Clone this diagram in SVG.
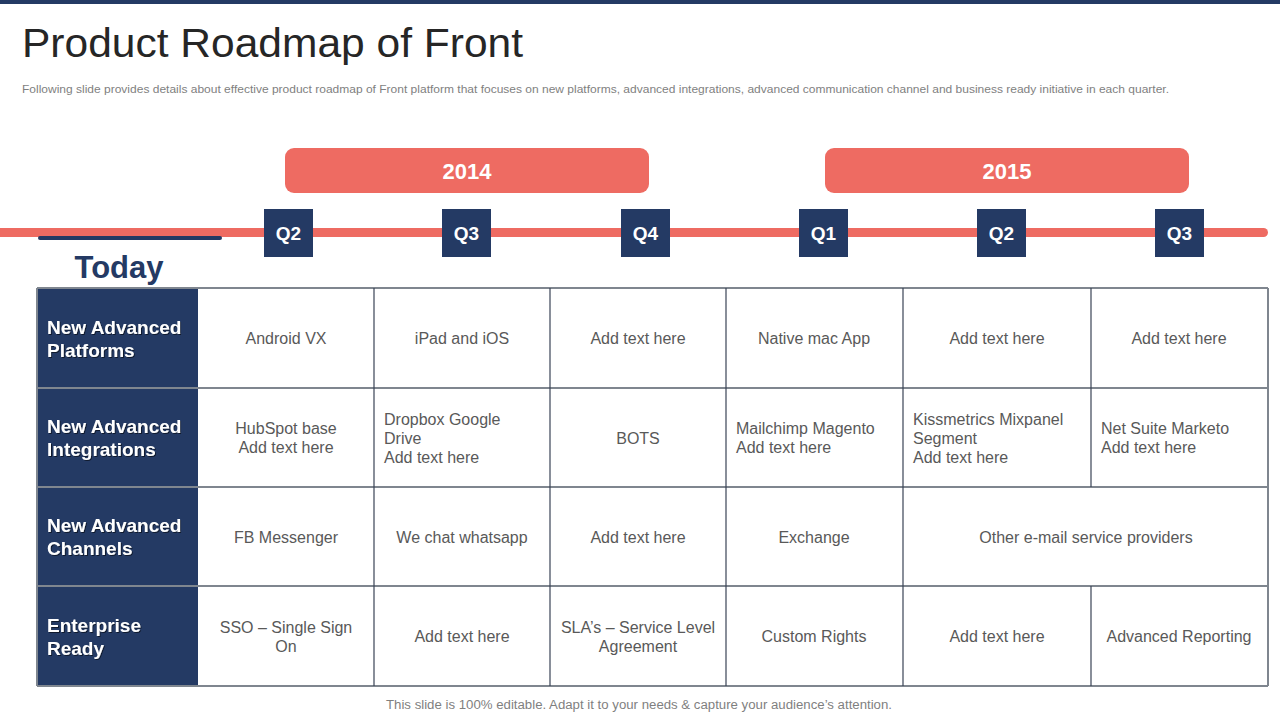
<svg xmlns="http://www.w3.org/2000/svg" width="1280" height="720" viewBox="0 0 1280 720">
<defs>
<style>
.navy{fill:#243a64}
.red{fill:#ee6b62}
.hdr{font-family:"Liberation Sans",Arial,sans-serif;font-weight:bold;font-size:19px;fill:#ffffff}
.q{font-family:"Liberation Sans",Arial,sans-serif;font-weight:bold;font-size:19px;fill:#ffffff;text-anchor:middle}
.yr{font-family:"Liberation Sans",Arial,sans-serif;font-weight:bold;font-size:22px;fill:#ffffff;text-anchor:middle}
.cell{font-family:"Liberation Sans",Arial,sans-serif;font-size:16px;fill:#595959}
.c{text-anchor:middle}
.hl{stroke:#7f868f;stroke-width:2}
.vl{stroke:#3a4456;stroke-width:1.2}
</style>
<filter id="sh" x="-10%" y="-10%" width="130%" height="140%">
<feDropShadow dx="1" dy="1" stdDeviation="0.6" flood-color="#000000" flood-opacity="0.55"/>
</filter>
</defs>
<rect x="0" y="0" width="1280" height="720" fill="#ffffff"/>
<rect x="0" y="0" width="1280" height="4" class="navy"/>
<text x="22" y="57" font-family="Liberation Sans,Arial,sans-serif" font-size="41" fill="#262626" textLength="501" lengthAdjust="spacingAndGlyphs">Product Roadmap of Front</text>
<text x="22" y="93" font-family="Liberation Sans,Arial,sans-serif" font-size="11" fill="#7f7f7f" textLength="1147" lengthAdjust="spacingAndGlyphs">Following slide provides details about effective product roadmap of Front platform that focuses on new platforms, advanced integrations, advanced communication channel and business ready initiative in each quarter.</text>

<g id="timeline">
<path d="M0 228 H1263.5 A4.5 4.5 0 0 1 1263.5 237 H0 Z" class="red"/>
<rect x="38" y="236" width="184" height="4" rx="2" class="navy"/>
<text x="119" y="278" text-anchor="middle" font-family="Liberation Sans,Arial,sans-serif" font-weight="bold" font-size="31" fill="#243a64">Today</text>
</g>

<g id="year-2014"><rect x="285" y="148" width="364" height="45" rx="9" class="red"/><text x="467" y="179" class="yr">2014</text></g>
<g id="year-2015"><rect x="825" y="148" width="364" height="45" rx="9" class="red"/><text x="1007" y="179" class="yr">2015</text></g>

<g id="q-2014-q2"><rect x="264" y="209" width="49" height="48" class="navy"/><text x="288.5" y="240" class="q">Q2</text></g>
<g id="q-2014-q3"><rect x="442" y="209" width="49" height="48" class="navy"/><text x="466.5" y="240" class="q">Q3</text></g>
<g id="q-2014-q4"><rect x="621" y="209" width="49" height="48" class="navy"/><text x="645.5" y="240" class="q">Q4</text></g>
<g id="q-2015-q1"><rect x="799" y="209" width="49" height="48" class="navy"/><text x="823.5" y="240" class="q">Q1</text></g>
<g id="q-2015-q2"><rect x="977" y="209" width="49" height="48" class="navy"/><text x="1001.5" y="240" class="q">Q2</text></g>
<g id="q-2015-q3"><rect x="1155" y="209" width="49" height="48" class="navy"/><text x="1179.5" y="240" class="q">Q3</text></g>

<g id="table">
<rect x="37" y="288" width="161" height="398" class="navy"/>
<g id="grid">
<line x1="37" y1="288" x2="1268" y2="288" class="hl"/>
<line x1="37" y1="388" x2="1268" y2="388" class="hl"/>
<line x1="37" y1="487" x2="1268" y2="487" class="hl"/>
<line x1="37" y1="586" x2="1268" y2="586" class="hl"/>
<line x1="37" y1="686" x2="1268" y2="686" class="hl"/>
<line x1="37" y1="288" x2="37" y2="686" class="hl"/>
<line x1="1268" y1="288" x2="1268" y2="686" class="hl"/>
<line x1="374" y1="288" x2="374" y2="686" class="vl"/>
<line x1="550" y1="288" x2="550" y2="686" class="vl"/>
<line x1="726" y1="288" x2="726" y2="686" class="vl"/>
<line x1="903" y1="288" x2="903" y2="686" class="vl"/>
<line x1="1091" y1="288" x2="1091" y2="487" class="vl"/>
<line x1="1091" y1="586" x2="1091" y2="686" class="vl"/>
</g>

<g id="row-platforms">
<text class="hdr" filter="url(#sh)" x="47" y="334">New Advanced</text>
<text class="hdr" filter="url(#sh)" x="47" y="357">Platforms</text>
<text class="cell c" x="286" y="344">Android VX</text>
<text class="cell c" x="462" y="344">iPad and iOS</text>
<text class="cell c" x="638" y="344">Add text here</text>
<text class="cell c" x="814" y="344">Native mac App</text>
<text class="cell c" x="997" y="344">Add text here</text>
<text class="cell c" x="1179" y="344">Add text here</text>
</g>

<g id="row-integrations">
<text class="hdr" filter="url(#sh)" x="47" y="433">New Advanced</text>
<text class="hdr" filter="url(#sh)" x="47" y="456">Integrations</text>
<text class="cell c" x="286" y="434">HubSpot base</text>
<text class="cell c" x="286" y="453">Add text here</text>
<text class="cell" x="384" y="425">Dropbox Google</text>
<text class="cell" x="384" y="444">Drive</text>
<text class="cell" x="384" y="463">Add text here</text>
<text class="cell c" x="638" y="444">BOTS</text>
<text class="cell" x="736" y="434">Mailchimp Magento</text>
<text class="cell" x="736" y="453">Add text here</text>
<text class="cell" x="913" y="425">Kissmetrics Mixpanel</text>
<text class="cell" x="913" y="444">Segment</text>
<text class="cell" x="913" y="463">Add text here</text>
<text class="cell" x="1101" y="434">Net Suite Marketo</text>
<text class="cell" x="1101" y="453">Add text here</text>
</g>

<g id="row-channels">
<text class="hdr" filter="url(#sh)" x="47" y="532">New Advanced</text>
<text class="hdr" filter="url(#sh)" x="47" y="555">Channels</text>
<text class="cell c" x="286" y="543">FB Messenger</text>
<text class="cell c" x="462" y="543">We chat whatsapp</text>
<text class="cell c" x="638" y="543">Add text here</text>
<text class="cell c" x="814" y="543">Exchange</text>
<text class="cell c" x="1086" y="543">Other e-mail service providers</text>
</g>

<g id="row-enterprise">
<text class="hdr" filter="url(#sh)" x="47" y="632">Enterprise</text>
<text class="hdr" filter="url(#sh)" x="47" y="655">Ready</text>
<text class="cell c" x="286" y="633">SSO – Single Sign</text>
<text class="cell c" x="286" y="652">On</text>
<text class="cell c" x="462" y="642">Add text here</text>
<text class="cell c" x="638" y="633">SLA’s – Service Level</text>
<text class="cell c" x="638" y="652">Agreement</text>
<text class="cell c" x="814" y="642">Custom Rights</text>
<text class="cell c" x="997" y="642">Add text here</text>
<text class="cell c" x="1179" y="642">Advanced Reporting</text>
</g>
</g>

<text x="386" y="709" font-family="Liberation Sans,Arial,sans-serif" font-size="12.5" fill="#7f7f7f" textLength="506" lengthAdjust="spacingAndGlyphs">This slide is 100% editable. Adapt it to your needs &amp; capture your audience’s attention.</text>
</svg>
